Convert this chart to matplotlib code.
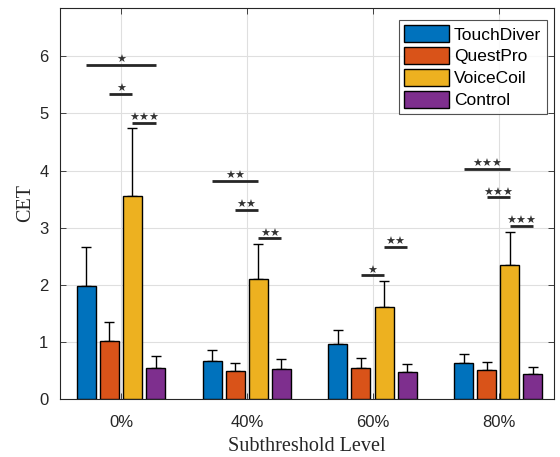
import matplotlib
matplotlib.use("Agg")
import matplotlib.pyplot as plt
import numpy as np

levels = ["0%", "40%", "60%", "80%"]
series = ["TouchDiver", "QuestPro", "VoiceCoil", "Control"]
colors = ["#0072BD", "#D95319", "#EDB120", "#7E2F8E"]
means = {
    "TouchDiver": [1.98, 0.665, 0.95, 0.625],
    "QuestPro":   [1.01, 0.49, 0.54, 0.50],
    "VoiceCoil":  [3.55, 2.10, 1.61, 2.34],
    "Control":    [0.54, 0.525, 0.46, 0.44],
}
errs_top = {
    "TouchDiver": [2.65, 0.85, 1.21, 0.79],
    "QuestPro":   [1.35, 0.63, 0.71, 0.65],
    "VoiceCoil":  [4.74, 2.71, 2.06, 2.93],
    "Control":    [0.75, 0.69, 0.61, 0.56],
}
# significance: (group index, bar i, bar j, y, label)
sig_group = [0, 0, 0, 1, 1, 1, 2, 2, 3, 3, 3]
sig_from  = [0, 1, 2, 0, 1, 2, 1, 2, 0, 1, 2]
sig_to    = [3, 2, 3, 2, 2, 3, 2, 3, 2, 2, 3]
sig_y     = [5.85, 5.34, 4.84, 3.82, 3.31, 2.81, 2.16, 2.66, 4.03, 3.53, 3.03]
sig_lab   = ["*", "*", "***", "**", "**", "**", "*", "**", "***", "***", "***"]

W, H = 560, 457
fig = plt.figure(figsize=(W/100, H/100), dpi=100)
ax = fig.add_axes([59.5/W, (H-398.6)/H, (554-59.5)/W, (398.6-8)/H])

offsets = [-0.277, -0.094, 0.09, 0.273]
bw = 0.151
x = np.arange(1, len(levels)+1)
for k, s in enumerate(series):
    xs = x + offsets[k]
    m = np.array(means[s])
    e = np.array(errs_top[s]) - m
    ax.bar(xs, m, width=bw, color=colors[k], edgecolor="black", linewidth=1.0,
           label=s, zorder=3)
    ax.errorbar(xs, m, yerr=[np.zeros_like(e), e], fmt="none", ecolor="black",
                elinewidth=1.0, capsize=3.7, capthick=1.0, zorder=2)

for g, i, j, yv, lab in zip(sig_group, sig_from, sig_to, sig_y, sig_lab):
    x1 = x[g] + offsets[i]
    x2 = x[g] + offsets[j]
    ax.plot([x1, x2], [yv, yv], color="#262626", lw=2.0, solid_capstyle="butt", zorder=4)
    star = "\u2605" * len(lab)
    ax.text((x1 + x2) / 2, yv + 0.03, star, ha="center", va="baseline",
            fontsize=8, color="#333333", family="DejaVu Sans", zorder=4)

ax.set_xlim(0.51, 4.44)
ax.set_ylim(0, 6.85)
ax.set_xticks(x)
ax.set_xticklabels(levels)
ax.set_yticks(range(0, 7))
ax.grid(True, color="#dfdfdf", linewidth=0.8, zorder=0)
ax.set_axisbelow(True)
for sp in ax.spines.values():
    sp.set_color("#262626")
    sp.set_linewidth(0.8)
ax.tick_params(direction="in", top=True, right=True, length=4, width=0.6,
               colors="#262626", labelsize=12, labelcolor="#262626")
for lbl in ax.get_xticklabels() + ax.get_yticklabels():
    lbl.set_family("Liberation Sans")
ax.tick_params(axis="x", pad=12)
ax.tick_params(axis="y", pad=8)

ax.set_xlabel("Subthreshold Level", family="Liberation Serif", fontsize=14.5,
              color="#262626", labelpad=5)
ax.set_ylabel("CET", family="Liberation Serif", fontsize=14.5, color="#262626",
              labelpad=3)

leg = ax.legend(loc="upper right", bbox_to_anchor=(0.985, 0.969),
                prop={"family": "Liberation Sans", "size": 12.5},
                frameon=True, fancybox=False, edgecolor="#262626",
                handlelength=2.6, handleheight=1.1, handletextpad=0.3,
                labelspacing=0.27, borderpad=0.3, borderaxespad=0.0)
leg.get_frame().set_linewidth(0.8)

fig.savefig("out.png", dpi=100)
